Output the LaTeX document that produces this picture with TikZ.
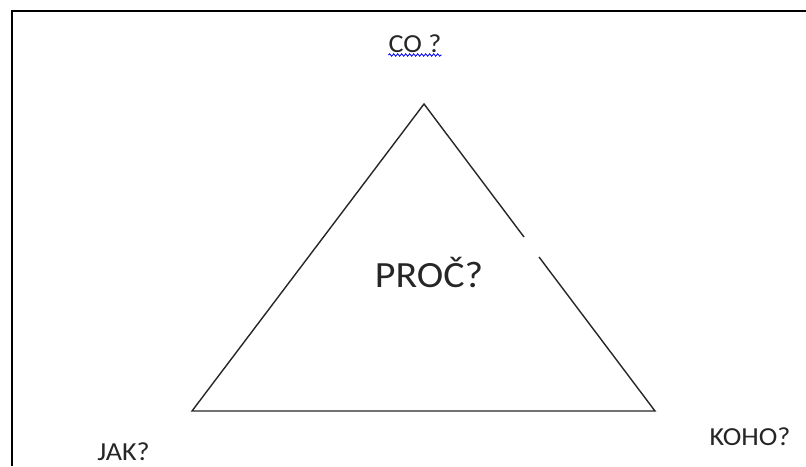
\documentclass[tikz,border=0pt]{standalone}
\usepackage{fontspec}
\setmainfont{Carlito}[FakeStretch=1.08]
\usetikzlibrary{decorations.pathmorphing}
\begin{document}
\begin{tikzpicture}[x=1pt,y=-1pt,
  tri/.style={draw=black!85,line width=1.4pt,line join=miter},
  frame/.style={draw=black,line width=2pt},
  lbl/.style={anchor=base,inner sep=0pt,font=\fontsize{26}{30}\selectfont,text=black!85},
  big/.style={anchor=base,inner sep=0pt,font=\fontsize{37}{42}\selectfont,text=black!85},
  wavy/.style={draw=blue,line width=0.8pt,decorate,decoration={snake,amplitude=1.2pt,segment length=4pt}}]
\useasboundingbox (0,0) rectangle (806,466);
% partial frame
\coordinate (f1) at (12,466);
\coordinate (f2) at (12,10.5);
\coordinate (f3) at (806,10.5);
\draw[frame] (f1) -- (f2) -- (f3);
% triangle
\coordinate (A) at (424,104);
\coordinate (BL) at (192,411);
\coordinate (BR) at (655,411);
\coordinate (g1) at (524,237);
\coordinate (g2) at (539,257);
\draw[tri] (g1) -- (A) -- (BL) -- (BR) -- (g2);
% labels
\node[lbl] (co) at (415,52) {CO ?};
\draw[wavy] ([yshift=-3pt]co.base west) -- ([yshift=-3pt]co.base east);
\node[big] (proc) at (429,287) {PROČ?};
\node[lbl] (jak) at (123.5,460) {JAK?};
\node[lbl] (koho) at (750,445) {KOHO?};
\end{tikzpicture}
\end{document}
